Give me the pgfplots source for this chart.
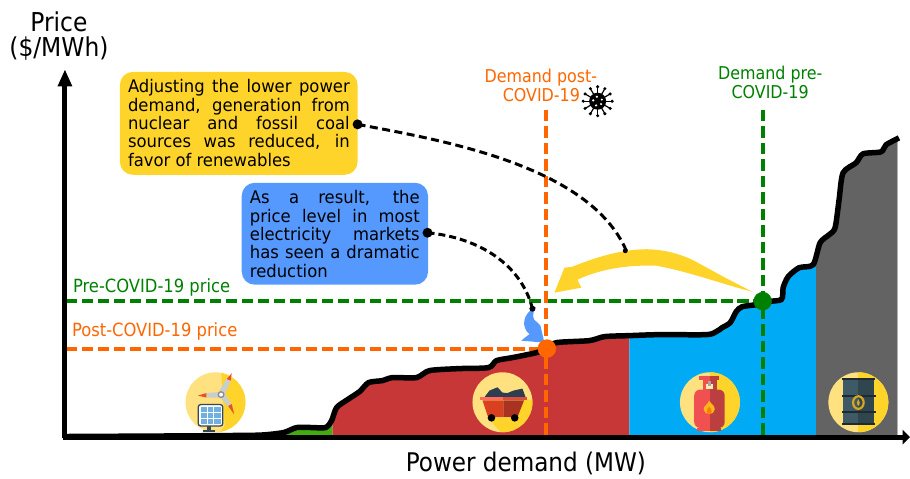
\documentclass[border=0pt]{standalone}
\usepackage{fontspec}
\setmainfont{DejaVu Sans Condensed}
\newfontfamily\boxfont[FakeStretch=1.05]{DejaVu Sans Condensed}
\usepackage{pgfplots}
\pgfplotsset{compat=1.18}

\definecolor{cfill}{HTML}{FFD42A}
\definecolor{bfill}{HTML}{5599FF}
\definecolor{orng}{HTML}{FF6600}
\definecolor{grn}{HTML}{008000}
\definecolor{cred}{HTML}{C83737}
\definecolor{cblue}{HTML}{00AAF5}
\definecolor{cgray}{HTML}{636363}
\definecolor{cgreen}{HTML}{44AA11}
\definecolor{ylight}{HTML}{FFE17F}
\definecolor{blade}{HTML}{C8CDD0}
\definecolor{tipred}{HTML}{E8502A}
\definecolor{panel}{HTML}{6FB0E0}
\definecolor{slate}{HTML}{37474F}
\definecolor{coal}{HTML}{2C3E50}
\definecolor{cartl}{HTML}{D9401F}
\definecolor{cartr}{HTML}{A93220}
\definecolor{riml}{HTML}{FF6D5A}
\definecolor{rimr}{HTML}{D94F3D}
\definecolor{gasl}{HTML}{F05050}
\definecolor{gasr}{HTML}{BC3F3F}
\definecolor{barl}{HTML}{3D5A66}
\definecolor{barr}{HTML}{2F464F}
\definecolor{barb}{HTML}{1E2A30}
\definecolor{ring}{HTML}{D9A520}

\newcommand{\lab}[1]{\fontsize{#1}{#1}\selectfont}
\newcommand{\boxtext}{\boxfont\fontsize{17.4}{18.4}\selectfont\baselineskip=18.4pt\relax}

\begin{document}
\begin{tikzpicture}
\begin{axis}[
  scale only axis, width=910pt, height=477pt,
  xmin=0, xmax=910, ymin=0, ymax=477, y dir=reverse,
  hide axis, clip=false,
]
\path (0,0) rectangle (910,477);

% areas under the supply curve
\addplot[fill=cgreen, draw=none] coordinates {
  (284,437)(284,433)(297,428)(327,428)(333,420)(333,437)} -- cycle;
\addplot[fill=cred, draw=none] coordinates {
  (333,437)(333,420)(337,408)(360,392)(368,382)(383,381)(393,378)(417,378)(430,371)
  (490,368)(497,361)(513,358)(537,353)(547,349)(557,343)(590,341)(605,337)(630,336)(630,437)} -- cycle;
\addplot[fill=cblue, draw=none] coordinates {
  (630,437)(630,336)(660,335)(707,335)(717,332)(723,328)(732,323)(737,312)(743,307)(757,305)
  (763,302)(783,300)(784,288)(788,277)(800,267)(817,265)(817,437)} -- cycle;
\addplot[fill=cgray, draw=none] coordinates {
  (817,437)(817,265)(822,242)(830,235)(837,228)(840,200)(843,173)(857,163)(863,153)(883,152)
  (887,145)(898,139)(898,437)} -- cycle;
\addplot[color=black!30, line width=1pt] coordinates {(898,139)(898,437)};

% icons
\fill[ylight] (215.7,402.7) circle[radius=30pt];
\fill[ylight] (503,402.7) circle[radius=30pt];
\fill[ylight] (710.7,402.7) circle[radius=30pt];
\fill[ylight] (859.3,402.7) circle[radius=30pt];
\begin{scope}
  \clip (215.7,402.7) circle[radius=30pt];
  \fill[cfill] (221,365) -- (250,365) -- (250,440) -- (215,440) -- (225,426) -- cycle;
\end{scope}
\begin{scope}
  \clip (503,402.7) circle[radius=30pt];
  \fill[cfill] (488,418) -- (518,418) -- (524,400) -- (540,400) -- (540,440) -- (508,440) -- cycle;
\end{scope}
\begin{scope}
  \clip (710.7,402.7) circle[radius=30pt];
  \fill[cfill] (711,370) rectangle (745,440);
\end{scope}
\begin{scope}
  \clip (859.3,402.7) circle[radius=30pt];
  \fill[cfill] (859.3,370) rectangle (895,440);
\end{scope}

% solar panel and turbine
\fill[slate] (203,430) rectangle (215,432);
\fill[slate] (207,426) rectangle (211,431);
\draw[fill=white, draw=slate, line width=1.3pt, rounded corners=2.5pt] (198.5,405) rectangle (223,426.5);
\fill[panel] (201,407.5) rectangle (221,424.5);
\draw[white, line width=0.8pt] (207.5,407.5) -- (207.5,424.5) (214,407.5) -- (214,424.5)
  (201,413) -- (221,413) (201,419) -- (221,419);
\fill[blade] (218.5,393) -- (227,379) -- (231,381) -- (224.5,396) -- cycle;
\fill[blade] (220,392.5) -- (206.7,393.5) -- (206.7,398) -- (220,398) -- cycle;
\fill[blade] (220.5,398) -- (228.5,407) -- (232,405) -- (224.5,393.5) -- cycle;
\fill[tipred] (227,379.5) -- (232,373.5) -- (231,381) -- cycle;
\fill[tipred] (206.7,393.5) -- (198,396) -- (206.7,398) -- cycle;
\fill[tipred] (228.5,406.5) -- (234.5,415) -- (232,404.5) -- cycle;
\draw[fill=white, draw=black!45, line width=1.3pt] (221.3,395) circle[radius=2.8pt];

% coal cart
\fill[coal] (484.7,398) -- (490,391) -- (498,387.7) -- (503,393) -- (508,393.5) -- (514,391) -- (523,389) -- (526.3,398) -- cycle;
\fill[cartl] (483,400.7) -- (504,400.7) -- (504,417.7) -- (488.7,417.7) -- cycle;
\fill[cartr] (504,400.7) -- (524.7,400.7) -- (518,417.7) -- (504,417.7) -- cycle;
\fill[riml] (480.3,397.3) rectangle (504,400.7);
\fill[rimr] (504,397.3) rectangle (528,400.7);
\fill[black] (492,418.3) circle[radius=3.8pt];
\fill[black] (515.3,418.3) circle[radius=3.8pt];

% gas cylinder
\fill[gasl] (700,376) rectangle (711,380.7);
\fill[gasr] (711,376) rectangle (720,380.7);
\fill[gasl] (703.3,380.7) rectangle (711,390);
\fill[gasr] (711,380.7) rectangle (717.7,390);
\fill[ylight!60!white] (706.7,384) rectangle (713.3,389);
\fill[black!35!white] (708.5,381.5) rectangle (711.5,386);
\fill[gasl] (698,428) rectangle (711,431.5);
\fill[gasr] (711,428) rectangle (722,431.5);
\fill[gasl, rounded corners=6pt] (695,390) rectangle (715,428.5);
\fill[gasr, rounded corners=6pt] (705,390) rectangle (725.5,428.5);
\fill[gasl] (705,390) rectangle (711,428.5);
\fill[cfill!65!orange] (710,401) .. controls (712,405) and (716,406) .. (715.5,410) .. controls (715,416) and (705,416) .. (704.5,410) .. controls (704,406) and (709,405) .. (710,401);
\fill[orng!85!yellow] (710,407) .. controls (711,409) and (713,410) .. (712.5,412) .. controls (712,415) and (708,415) .. (707.5,412) .. controls (707,410) and (709,409) .. (710,407);

% oil barrel
\fill[barl] (844,380) rectangle (859.3,425);
\fill[barr] (859.3,380) rectangle (875,425);
\draw[barb, line width=1.6pt] (843,379.5) -- (876,379.5) (842.5,396.7) -- (876.5,396.7)
  (842.5,412.3) -- (876.5,412.3) (843,424.5) -- (876,424.5);
\draw[ring, line width=2.2pt] (859.3,403) ellipse[x radius=5.3pt, y radius=6.3pt];
\fill[ring] (859.3,399.5) .. controls (861,402) and (861.5,404) .. (859.3,406.5) .. controls (857.1,404) and (857.6,402) .. (859.3,399.5);

% yellow shift arrow
\fill[cfill] (753,292) -- (725,277.5) -- (693,260) .. controls (680,254) and (665,250) .. (648,249.5)
  .. controls (625,249.5) and (600,256) .. (573,267) -- (565,268) -- (555,293) -- (582,288) -- (578,280)
  .. controls (600,270) and (625,265) .. (657,266) .. controls (690,272) and (725,285) .. (753,292) -- cycle;

% price and demand guides
\addplot[color=grn, line width=4pt, dash pattern=on 11.5pt off 4.5pt] coordinates {(66,301.5)(763,301.5)};
\addplot[color=grn, line width=4pt, dash pattern=on 11.5pt off 5pt] coordinates {(763.7,110)(763.7,437)};
\addplot[color=orng, line width=4pt, dash pattern=on 11.5pt off 4.5pt] coordinates {(66,349)(547,349)};
\addplot[color=orng, line width=4pt, dash pattern=on 11.5pt off 5pt] coordinates {(546.7,110)(546.7,437)};

% small blue arrow
\fill[bfill] (545,343) -- (521.7,341) -- (530,334.5) .. controls (522,328) and (522,314) .. (537,307)
  .. controls (532,314) and (533,320) .. (537,322) -- (541,326) -- cycle;

% supply curve
\addplot[color=black, line width=5.5pt, smooth, tension=0.45] coordinates {
  (64,437)(160,436.5)(230,436)(262,435.5)(284,433)(297,428)(312,428)(326,428)(332,421)(337,408)
  (348,400)(360,392)(369,383)(383,381)(393,378)(417,378)(430,371)(460,369)(489,368)(497,361)
  (513,358)(537,353)(547,349)(557,343)(590,341)(605,337)(630,336)(660,335)(707,335)(717,332)
  (723,328)(731,323)(737,312)(743,307)(757,305)(763,302)(782,300)(784,288)(789,277)(800,268)
  (814,265)(821,243)(830,235)(836,228)(840,200)(844,173)(857,163)(864,154)(882,152)(887,145)(900,138)};

% axes
\addplot[color=black, line width=5pt] coordinates {(65,438)(65,84)};
\addplot[color=black, line width=5pt] coordinates {(63,437.5)(906,437.5)};
\fill[black] (65,70) -- (72.5,86.5) -- (57.5,86.5) -- cycle;
\fill[black] (911,437.5) -- (903.5,430) -- (903.5,445) -- cycle;

% operating points
\addplot[only marks, mark=*, mark size=9pt, color=orng] coordinates {(547.5,349)};
\addplot[only marks, mark=*, mark size=9pt, color=grn] coordinates {(763.5,301.5)};

% callout boxes
\fill[cfill, rounded corners=13pt] (120,72) rectangle (358,175);
\fill[bfill, rounded corners=13pt] (242,183) rectangle (428.5,285);
\node[anchor=north west, inner sep=0pt, text width=222pt, align=justify, text=black] at (128,79.5) {%
  \boxtext
  Adjusting the lower power\linebreak demand, generation from\linebreak
  nuclear and fossil coal\linebreak sources was reduced, in\linebreak favor of renewables\par};
\node[anchor=north west, inner sep=0pt, text width=170pt, align=justify, text=black] at (250,190.5) {%
  \boxtext
  As a result, the\linebreak price level in most\linebreak
  electricity markets\linebreak has seen a dramatic\linebreak reduction\par};

% callout leaders
\draw[black, line width=3pt, dash pattern=on 8pt off 4.5pt]
  (358,124.5) .. controls (440,140) and (590,165) .. (627,251);
\draw[black, line width=3pt, dash pattern=on 7pt off 4pt]
  (428,233) .. controls (480,238) and (522,265) .. (533,309);
\fill[black] (358,124.5) circle[radius=5pt];
\fill[black] (428,233) circle[radius=5pt];
\fill[black] (626,251) circle[radius=2.5pt];
\fill[black] (533,309) circle[radius=3pt];

% virus
\begin{scope}[shift={(598.3,101.3)}]
  \fill[black] (0:0pt) circle[radius=8.5pt];
  \pgfplotsinvokeforeach{0,30,60,90,120,150,180,210,240,270,300,330}{
    \draw[black, line width=1.2pt] (#1:0pt) -- (#1:14pt);
    \fill[black] (#1:14.5pt) circle[radius=1.7pt];
  }
  \pgfplotsinvokeforeach{20,100,170,250,320}{
    \fill[white] (#1:4.5pt) circle[radius=1.2pt];
  }
\end{scope}

% labels
\node[anchor=center, font=\lab{26}] at (59,22) {Price};
\node[anchor=center, font=\lab{26}] at (59,48.5) {(\$/MWh)};
\node[anchor=center, font=\lab{25.7}] at (526.5,464) {Power demand (MW)};
\node[anchor=west, inner sep=0pt, font=\lab{18.2}, text=grn] at (73,288) {Pre-COVID-19 price};
\node[anchor=west, inner sep=0pt, font=\lab{18.2}, text=orng] at (72,332) {Post-COVID-19 price};
\node[anchor=center, inner sep=0pt, font=\lab{17.7}, text=orng] at (541.5,77.5) {Demand post-};
\node[anchor=center, inner sep=0pt, font=\lab{17.7}, text=orng] at (542,95.5) {COVID-19};
\node[anchor=center, inner sep=0pt, font=\lab{17.7}, text=grn] at (771,74.5) {Demand pre-};
\node[anchor=center, inner sep=0pt, font=\lab{17.7}, text=grn] at (771,92.5) {COVID-19};
\end{axis}
\end{tikzpicture}
\end{document}
